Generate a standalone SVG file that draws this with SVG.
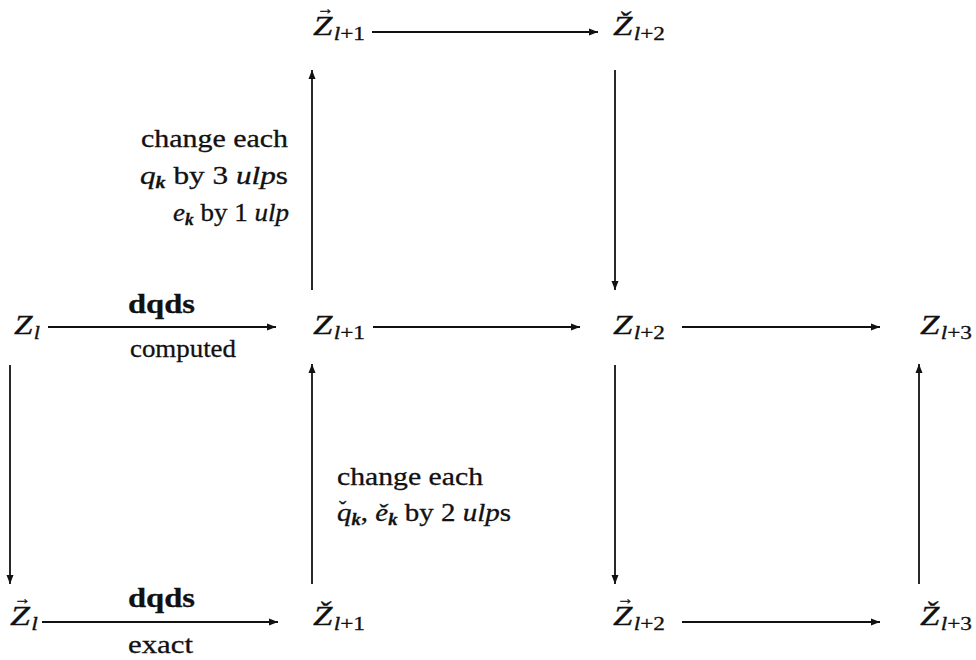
<svg xmlns="http://www.w3.org/2000/svg" width="976" height="660" viewBox="0 0 976 660">
<style>
text{font-family:"Liberation Serif","DejaVu Serif",serif;fill:#111;stroke:#111;stroke-width:0.3;font-size:25px;}
.Z{font-style:italic;font-size:27px;}
.si{font-style:italic;font-size:18px;}
.sr{font-size:18px;}
.it{font-style:italic;}
.ks{font-style:italic;font-weight:bold;font-size:16px;}
.bf{font-weight:bold;font-size:28px;}
.acc{font-size:17px;font-weight:bold;}
.car{font-size:22px;}
.ln{stroke:#111;stroke-width:1.8;fill:none;}
</style>
<defs>
<marker id="ah" markerUnits="userSpaceOnUse" markerWidth="10" markerHeight="8" refX="9" refY="4" orient="auto">
<path d="M0,0.5 L9,4 L0,7.5 z" fill="#111"/>
</marker>
</defs>

<g id="connectors">
<line class="ln" x1="372" y1="32" x2="598" y2="32" marker-end="url(#ah)"/>
<line class="ln" x1="312" y1="290" x2="312" y2="70" marker-end="url(#ah)"/>
<line class="ln" x1="615" y1="70" x2="615" y2="290" marker-end="url(#ah)"/>
<line class="ln" x1="48" y1="327" x2="276" y2="327" marker-end="url(#ah)"/>
<line class="ln" x1="373" y1="327" x2="580" y2="327" marker-end="url(#ah)"/>
<line class="ln" x1="682" y1="327" x2="880" y2="327" marker-end="url(#ah)"/>
<line class="ln" x1="10" y1="365" x2="10" y2="584" marker-end="url(#ah)"/>
<line class="ln" x1="312" y1="584" x2="312" y2="364" marker-end="url(#ah)"/>
<line class="ln" x1="615" y1="365" x2="615" y2="584" marker-end="url(#ah)"/>
<line class="ln" x1="919" y1="584" x2="919" y2="364" marker-end="url(#ah)"/>
<line class="ln" x1="42" y1="622" x2="278" y2="622" marker-end="url(#ah)"/>
<line class="ln" x1="682" y1="622" x2="880" y2="622" marker-end="url(#ah)"/>
</g>

<g id="edge-labels">
<text class="bf" x="128" y="313" textLength="67" lengthAdjust="spacingAndGlyphs">dqds</text>
<text x="130" y="357" textLength="106" lengthAdjust="spacingAndGlyphs">computed</text>
<text class="bf" x="128" y="607" textLength="67" lengthAdjust="spacingAndGlyphs">dqds</text>
<text x="128" y="653" textLength="65" lengthAdjust="spacingAndGlyphs">exact</text>
</g>

<g id="label-upper">
<text x="141" y="147" textLength="147" lengthAdjust="spacingAndGlyphs">change each</text>
<text x="140" y="184" textLength="148" lengthAdjust="spacingAndGlyphs"><tspan class="it">q</tspan><tspan class="ks" dy="4">k</tspan><tspan dy="-4"> by 3 </tspan><tspan class="it">ulp</tspan><tspan>s</tspan></text>
<text x="173" y="221" textLength="116" lengthAdjust="spacingAndGlyphs"><tspan class="it">e</tspan><tspan class="ks" dy="4">k</tspan><tspan dy="-4"> by 1 </tspan><tspan class="it">ulp</tspan></text>
</g>

<g id="label-lower">
<text x="337" y="485" textLength="146" lengthAdjust="spacingAndGlyphs">change each</text>
<text x="337" y="521" textLength="174" lengthAdjust="spacingAndGlyphs"><tspan class="it">q</tspan><tspan class="ks" dy="4">k</tspan><tspan dy="-4">, </tspan><tspan class="it">ě</tspan><tspan class="ks" dy="4">k</tspan><tspan dy="-4"> by 2 </tspan><tspan class="it">ulp</tspan><tspan>s</tspan></text>
<text class="car" x="339" y="516">ˇ</text>
</g>

<g id="n-Zvec-l1">
<text class="acc" x="317" y="14">→</text>
<text x="313" y="35" textLength="52" lengthAdjust="spacingAndGlyphs"><tspan class="Z">Z</tspan><tspan class="si" dy="5" dx="1">l</tspan><tspan class="sr">+1</tspan></text>
</g>
<g id="n-Zchk-l2">
<text x="613" y="35" textLength="52" lengthAdjust="spacingAndGlyphs"><tspan class="Z">Ž</tspan><tspan class="si" dy="5" dx="1">l</tspan><tspan class="sr">+2</tspan></text>
</g>

<g id="n-Z-l">
<text x="14" y="334" textLength="26" lengthAdjust="spacingAndGlyphs"><tspan class="Z">Z</tspan><tspan class="si" dy="5" dx="1">l</tspan></text>
</g>
<g id="n-Z-l1">
<text x="313" y="334" textLength="52" lengthAdjust="spacingAndGlyphs"><tspan class="Z">Z</tspan><tspan class="si" dy="5" dx="1">l</tspan><tspan class="sr">+1</tspan></text>
</g>
<g id="n-Z-l2">
<text x="613" y="334" textLength="52" lengthAdjust="spacingAndGlyphs"><tspan class="Z">Z</tspan><tspan class="si" dy="5" dx="1">l</tspan><tspan class="sr">+2</tspan></text>
</g>
<g id="n-Z-l3">
<text x="920" y="334" textLength="52" lengthAdjust="spacingAndGlyphs"><tspan class="Z">Z</tspan><tspan class="si" dy="5" dx="1">l</tspan><tspan class="sr">+3</tspan></text>
</g>

<g id="n-Zvec-l">
<text class="acc" x="14" y="604">→</text>
<text x="10" y="625" textLength="28" lengthAdjust="spacingAndGlyphs"><tspan class="Z">Z</tspan><tspan class="si" dy="5" dx="1">l</tspan></text>
</g>
<g id="n-Zchk-l1">
<text x="313" y="625" textLength="52" lengthAdjust="spacingAndGlyphs"><tspan class="Z">Ž</tspan><tspan class="si" dy="5" dx="1">l</tspan><tspan class="sr">+1</tspan></text>
</g>
<g id="n-Zvec-l2">
<text class="acc" x="617" y="604">→</text>
<text x="613" y="625" textLength="52" lengthAdjust="spacingAndGlyphs"><tspan class="Z">Z</tspan><tspan class="si" dy="5" dx="1">l</tspan><tspan class="sr">+2</tspan></text>
</g>
<g id="n-Zchk-l3">
<text x="920" y="625" textLength="52" lengthAdjust="spacingAndGlyphs"><tspan class="Z">Ž</tspan><tspan class="si" dy="5" dx="1">l</tspan><tspan class="sr">+3</tspan></text>
</g>
</svg>
